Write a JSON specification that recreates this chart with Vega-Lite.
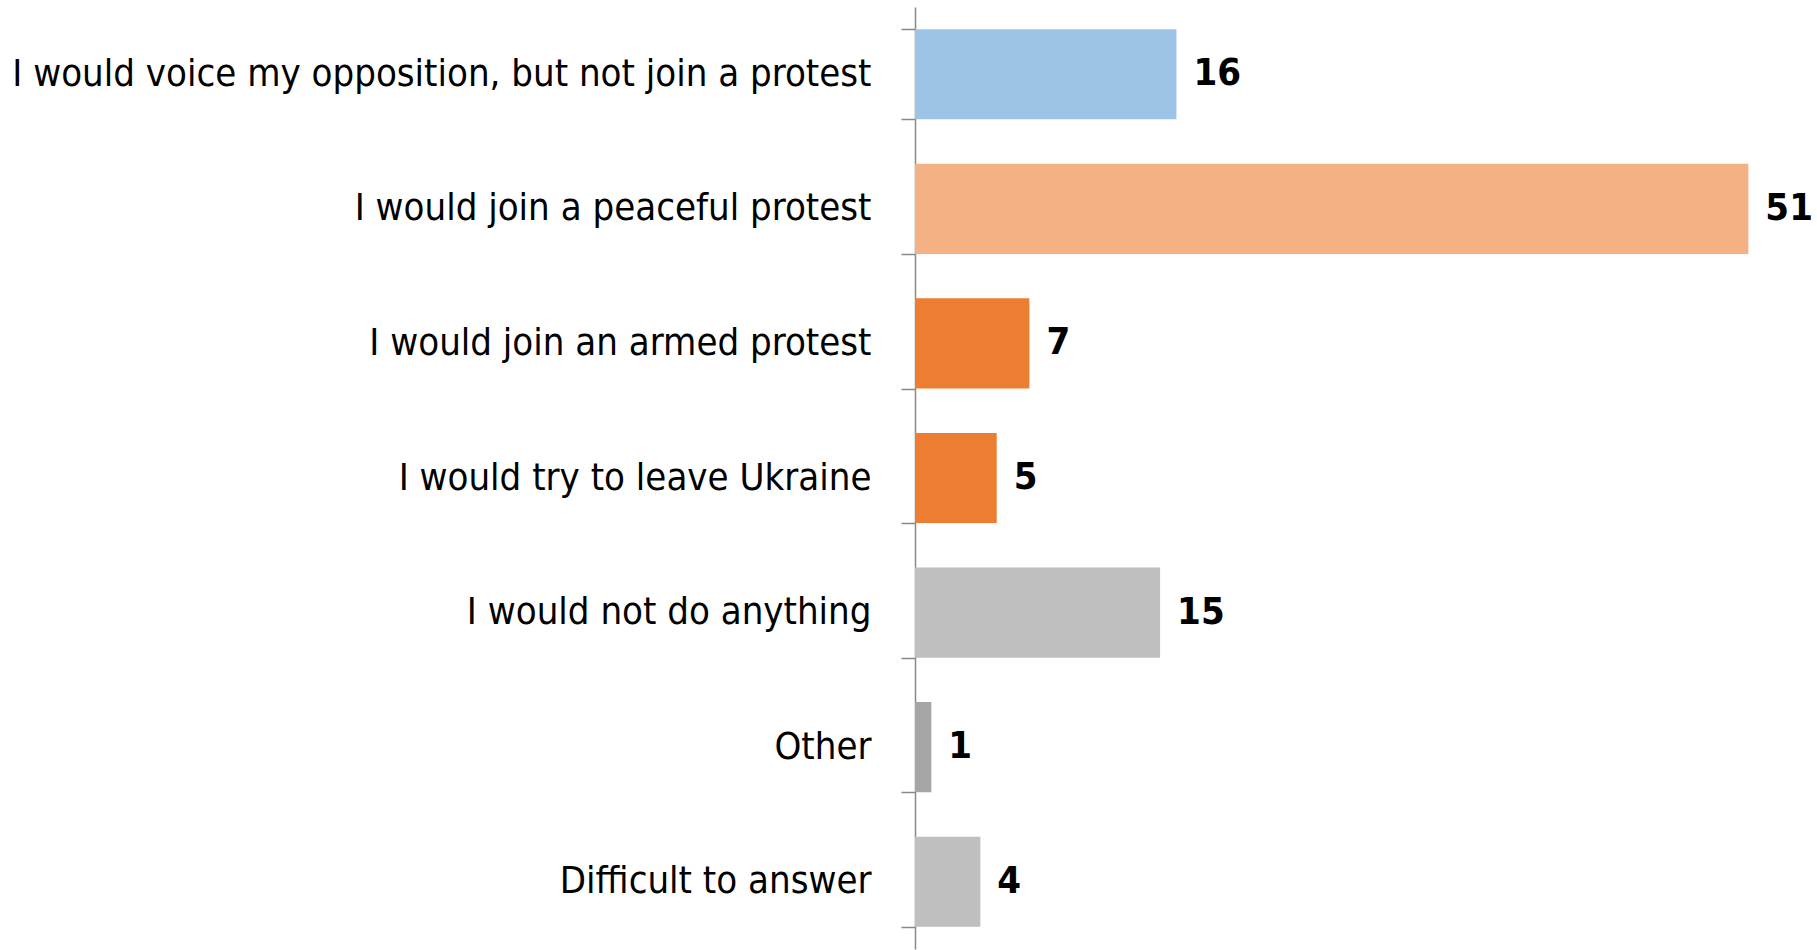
{
  "$schema": "https://vega.github.io/schema/vega-lite/v6.json",
  "width": 902,
  "height": 942,
  "autosize": "none",
  "padding": {"left": 915, "top": 7, "right": 0, "bottom": 1},
  "background": "white",
  "config": {"view": {"stroke": null}},
  "data": {"values": [
    {"answer": "I would voice my opposition, but not join a protest", "value": 16, "group": "a"},
    {"answer": "I would join a peaceful protest", "value": 51, "group": "b"},
    {"answer": "I would join an armed protest", "value": 7, "group": "c"},
    {"answer": "I would try to leave Ukraine", "value": 5, "group": "c"},
    {"answer": "I would not do anything", "value": 15, "group": "d"},
    {"answer": "Other", "value": 1, "group": "e"},
    {"answer": "Difficult to answer", "value": 4, "group": "d"}
  ]},
  "encoding": {
    "y": {"field": "answer", "type": "nominal", "sort": null,
      "scale": {"paddingInner": 0.33, "paddingOuter": 0.165},
      "axis": {"title": null, "domainColor": "#898989", "domainWidth": 1.5, "tickColor": "#898989", "tickWidth": 1.5, "tickSize": 14, "tickBand": "extent",
        "labelFont": "DejaVu Sans Condensed", "labelFontSize": 38, "labelColor": "#000000", "labelPadding": 30, "labelLimit": 1000}},
    "x": {"field": "value", "type": "quantitative", "scale": {"domain": [0, 55.2], "nice": false}, "axis": null}
  },
  "layer": [
    {"mark": {"type": "bar"},
     "encoding": {"color": {"field": "group", "type": "nominal", "legend": null,
       "scale": {"domain": ["a", "b", "c", "d", "e"], "range": ["#9DC3E6", "#F4B183", "#ED7D31", "#BFBFBF", "#A5A5A5"]}}}},
    {"mark": {"type": "text", "align": "left", "baseline": "middle", "dx": 17, "font": "DejaVu Sans Condensed", "fontWeight": "bold", "fontSize": 38, "color": "#000000"},
     "encoding": {"text": {"field": "value", "type": "quantitative"}}}
  ]
}
